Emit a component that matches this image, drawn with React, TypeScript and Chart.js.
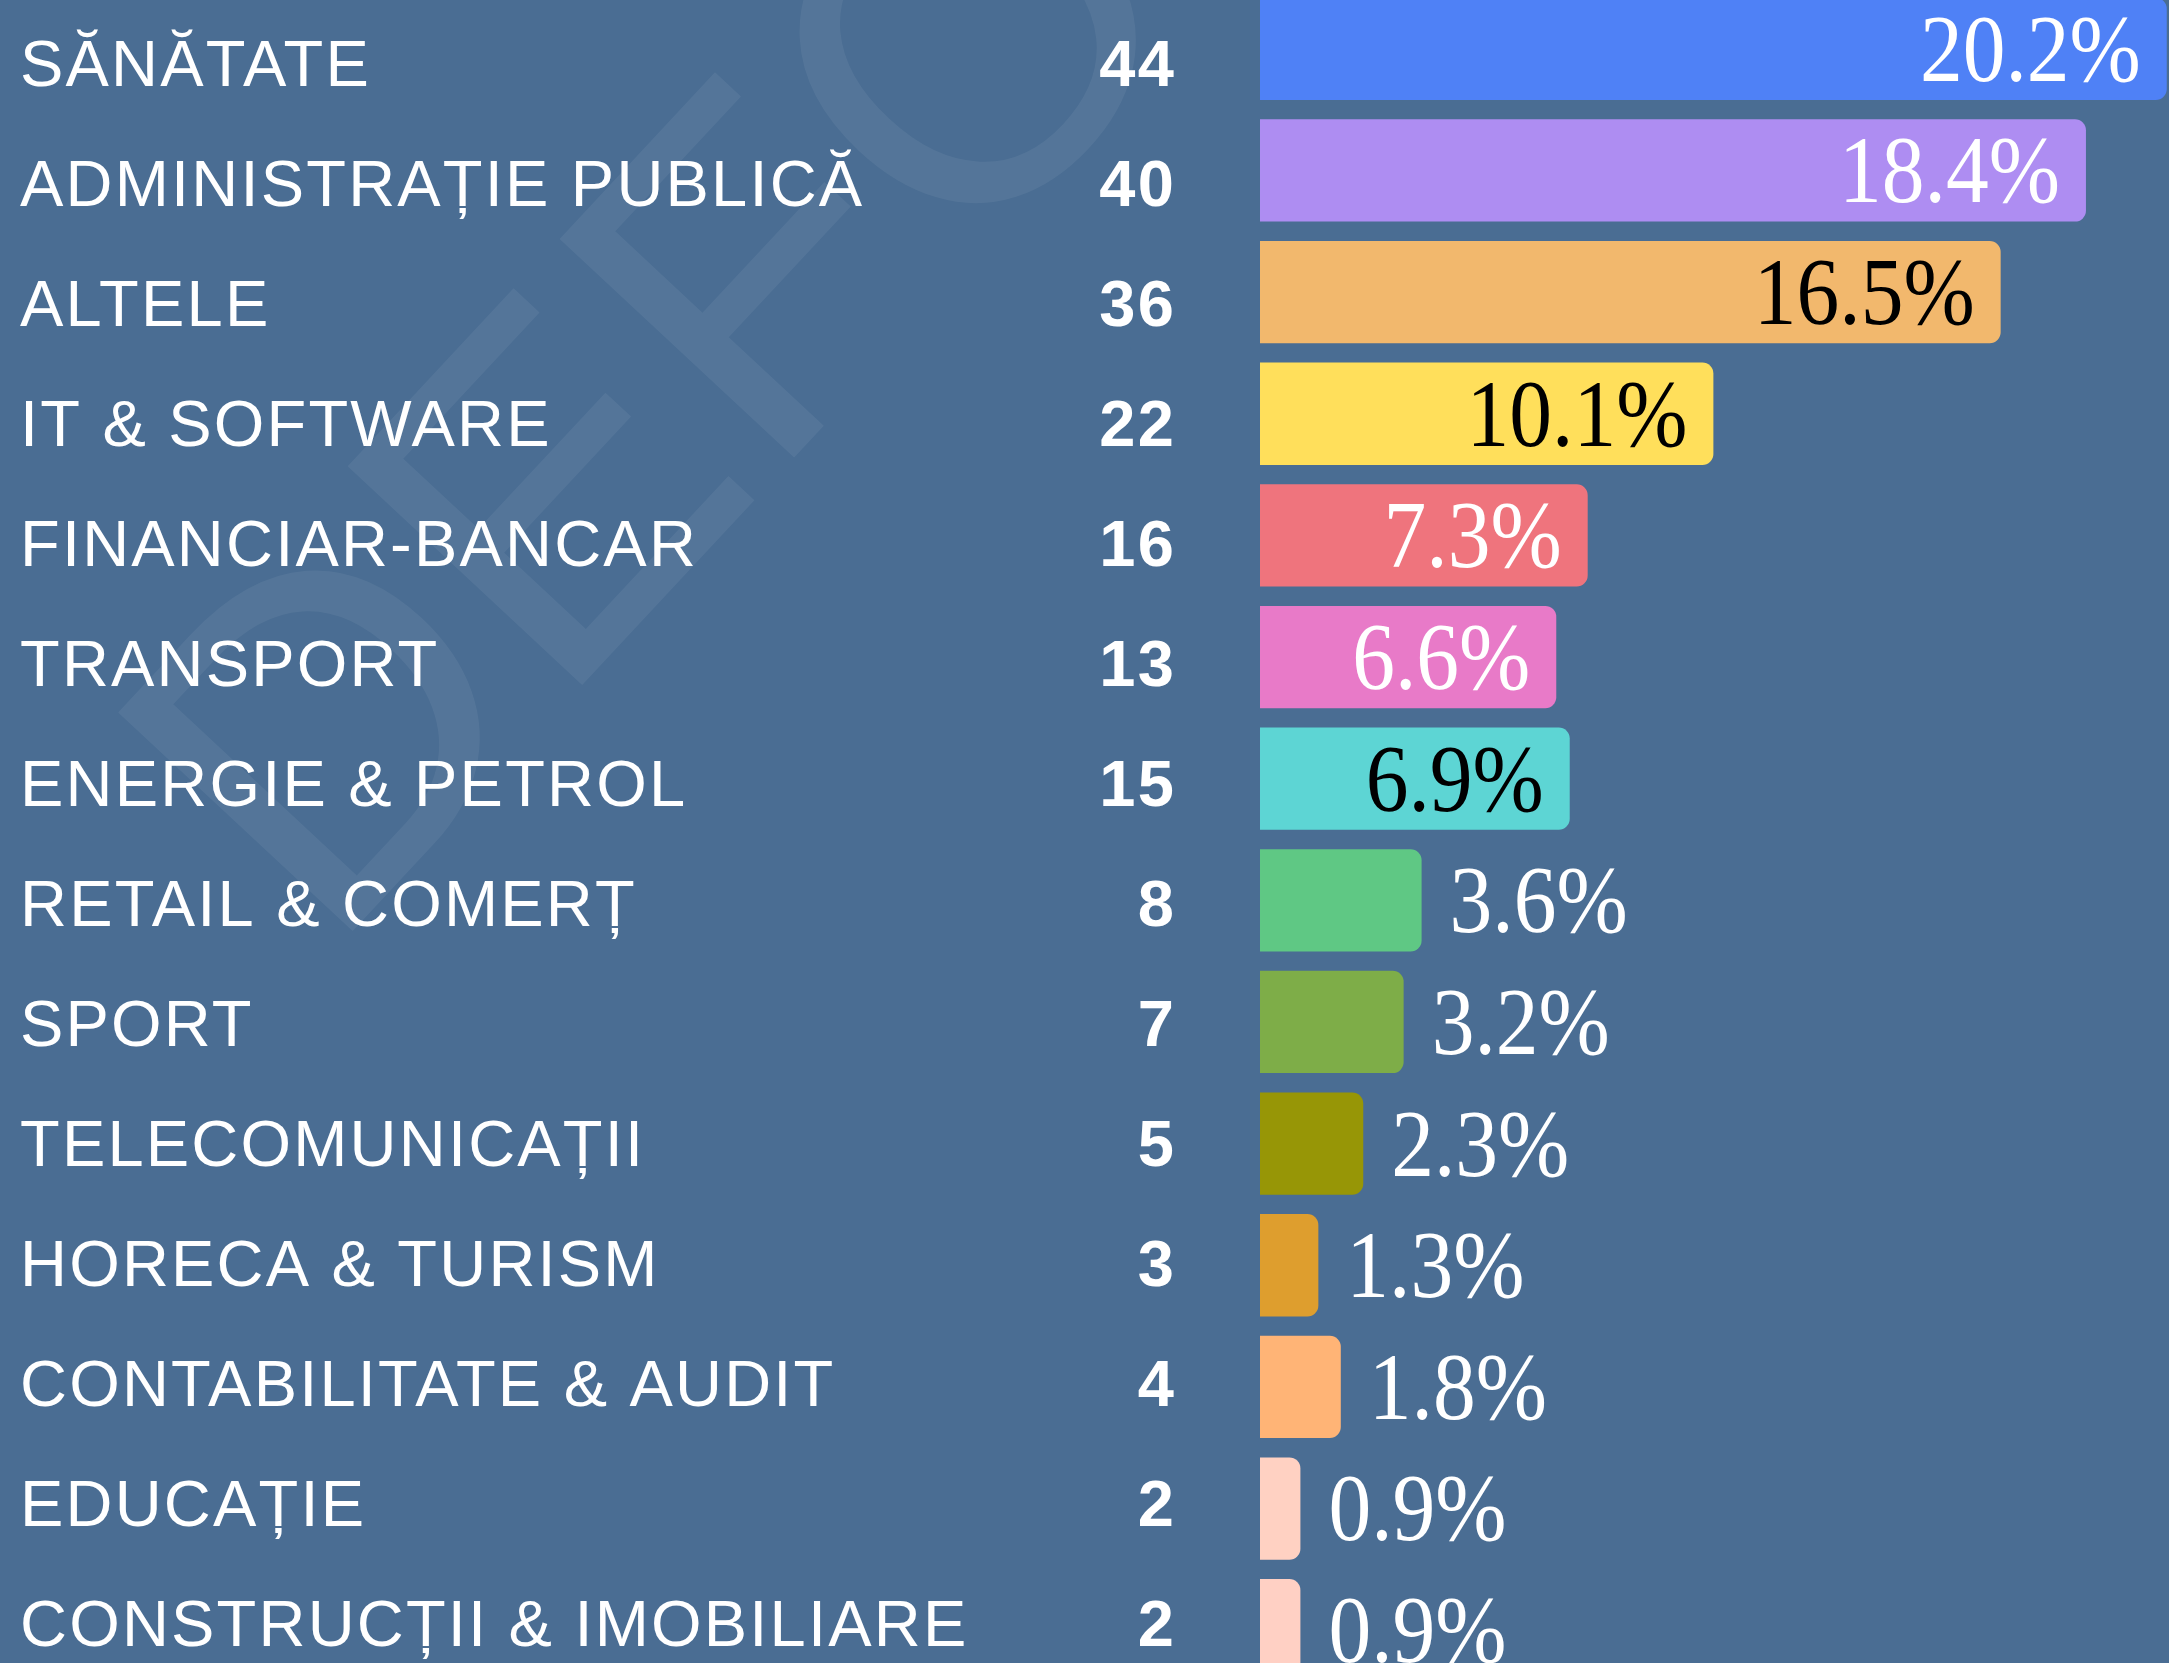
import React, { useEffect, useRef } from 'react';
import { Chart, registerables } from 'chart.js';

Chart.register(...registerables);

// ---- data ----
const categories = [
  'SĂNĂTATE',
  'ADMINISTRAȚIE PUBLICĂ',
  'ALTELE',
  'IT & SOFTWARE',
  'FINANCIAR-BANCAR',
  'TRANSPORT',
  'ENERGIE & PETROL',
  'RETAIL & COMERȚ',
  'SPORT',
  'TELECOMUNICAȚII',
  'HORECA & TURISM',
  'CONTABILITATE & AUDIT',
  'EDUCAȚIE',
  'CONSTRUCȚII & IMOBILIARE',
];
const counts = [44, 40, 36, 22, 16, 13, 15, 8, 7, 5, 3, 4, 2, 2];
const percents = [20.2, 18.4, 16.5, 10.1, 7.3, 6.6, 6.9, 3.6, 3.2, 2.3, 1.3, 1.8, 0.9, 0.9];
const barColors = [
  '#4f81f6', '#ae8df2', '#f2b86d', '#ffdf5b', '#ef747d', '#e87ac8', '#5dd5d4',
  '#5fc884', '#7ead48', '#979606', '#de9e2e', '#ffb476', '#ffd1c2', '#ffd0c4',
];
const valueLabelColors = [
  '#ffffff', '#ffffff', '#000000', '#000000', '#ffffff', '#ffffff', '#000000',
  '#ffffff', '#ffffff', '#ffffff', '#ffffff', '#ffffff', '#ffffff', '#ffffff',
];
const xMax = 20.25;
const watermarkText = 'DEFO';

const BG = '#4a6d93';
const W = 2169;
const H = 1703;

export default function App() {
  const ref = useRef<HTMLCanvasElement>(null);

  useEffect(() => {
    if (!ref.current) return;

    const rowTicks = (scale: any) => {
      scale.ticks = categories.map((_, i) => ({ value: i }));
    };

    const decor = {
      id: 'decor',
      beforeDraw(chart: any) {
        const ctx = chart.ctx;
        ctx.save();
        ctx.fillStyle = BG;
        ctx.fillRect(0, 0, chart.width, chart.height);
        ctx.translate(674, 410);
        ctx.rotate((-47 * Math.PI) / 180);
        ctx.font = '466px "Liberation Sans", Arial, sans-serif';
        ctx.fillStyle = 'rgba(255,255,255,0.06)';
        ctx.textAlign = 'center';
        ctx.textBaseline = 'middle';
        ctx.fillText(watermarkText, 0, 0);
        ctx.restore();
        ctx.letterSpacing = '2.2px';
      },
      beforeDatasetsDraw(chart: any) {
        chart.ctx.letterSpacing = '0px';
      },
      afterDatasetsDraw(chart: any) {
        const ctx = chart.ctx;
        const meta = chart.getDatasetMeta(0);
        ctx.save();
        ctx.letterSpacing = '0px';
        ctx.font = '95px "Liberation Serif", "Times New Roman", serif';
        ctx.textBaseline = 'middle';
        meta.data.forEach((bar: any, i: number) => {
          const p = percents[i];
          const text = p.toFixed(1) + '%';
          const inside = p >= 6;
          ctx.save();
          if (inside) {
            ctx.translate(bar.x - 26, bar.y + 7);
            ctx.textAlign = 'right';
            ctx.fillStyle = valueLabelColors[i];
          } else {
            ctx.translate(bar.x + 28, bar.y + 7);
            ctx.textAlign = 'left';
            ctx.fillStyle = '#ffffff';
          }
          ctx.scale(0.9, 1);
          ctx.fillText(text, 0, 0);
          ctx.restore();
        });
        ctx.restore();
      },
    };

    const rowAxis = (weight: number, width: number, extra: any) => ({
      type: 'linear',
      axis: 'y',
      position: 'left',
      reverse: true,
      offset: false,
      bounds: 'data',
      min: -0.667,
      max: 13.525,
      weight,
      grid: { display: false, drawTicks: false, offset: false },
      border: { display: false },
      afterBuildTicks: rowTicks,
      afterFit: (s: any) => {
        s.width = width;
        s.paddingTop = 0;
        s.paddingBottom = 0;
        s.paddingLeft = 0;
        s.paddingRight = 0;
      },
      ...extra,
    });

    const chart = new Chart(ref.current, {
      type: 'bar',
      data: {
        labels: categories,
        datasets: [
          {
            data: percents,
            backgroundColor: barColors,
            borderWidth: 0,
            borderRadius: 11,
            borderSkipped: 'start',
            barPercentage: 0.841,
            categoryPercentage: 1,
          },
        ],
      },
      options: {
        indexAxis: 'y',
        responsive: false,
        animation: false,
        layout: { padding: { left: 20, right: 0, top: 0, bottom: 0 } },
        plugins: {
          legend: { display: false },
          tooltip: { enabled: false },
        },
        scales: {
          x: { type: 'linear', min: 0, max: xMax, display: false },
          y: { type: 'category', display: false },
          names: rowAxis(2, 1000, {
            ticks: {
              crossAlign: 'far',
              padding: 0,
              autoSkip: false,
              color: '#ffffff',
              font: { family: '"Liberation Sans", Arial, sans-serif', size: 65 },
              callback: (v: any) => categories[v] ?? '',
            },
          }),
          counts: rowAxis(1, 240, {
            ticks: {
              crossAlign: 'near',
              padding: 84,
              autoSkip: false,
              color: '#ffffff',
              font: { family: '"Liberation Sans", Arial, sans-serif', size: 65, weight: 'bold' },
              callback: (v: any) => (counts[v] !== undefined ? String(counts[v]) : ''),
            },
          }),
        },
      } as any,
      plugins: [decor],
    });

    return () => chart.destroy();
  }, []);

  return (
    <div
      style={{
        position: 'fixed',
        left: 0,
        top: 0,
        width: W,
        height: 1663,
        overflow: 'hidden',
        background: BG,
      }}
    >
      <div style={{ position: 'absolute', left: 0, top: -12, width: W, height: H }}>
        <canvas ref={ref} width={W} height={H} style={{ display: 'block' }} />
      </div>
    </div>
  );
}
